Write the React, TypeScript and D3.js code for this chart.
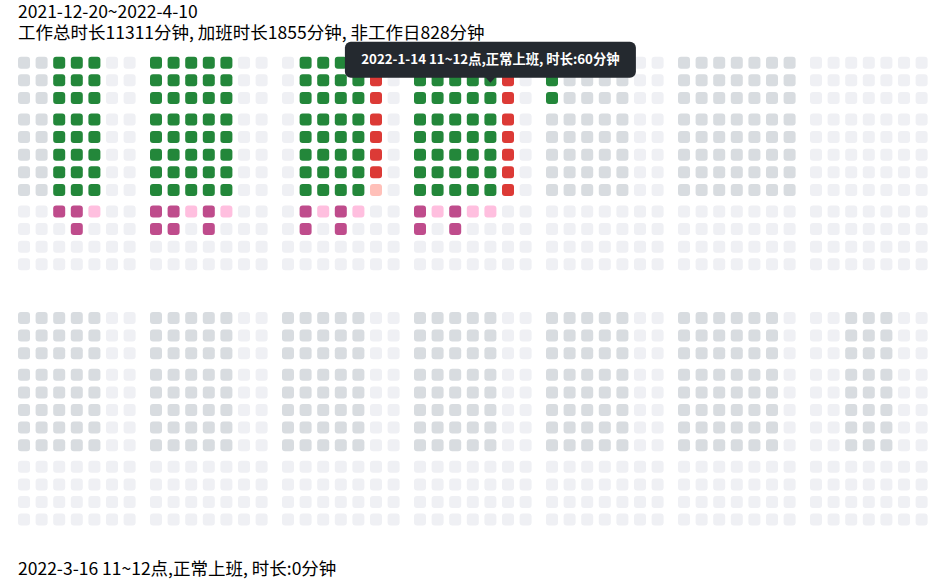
import React, { useState } from "react";
import * as d3 from "d3";

// weeks shown, Monday of each week
const weekStarts = [
  "2021-12-20", "2021-12-27", "2022-1-3", "2022-1-10", "2022-1-17", "2022-1-24",
  "2022-1-31", "2022-2-7", "2022-2-14", "2022-2-21", "2022-2-28", "2022-3-7",
  "2022-3-14", "2022-3-21", "2022-3-28", "2022-4-4",
];

const hourSlots = [
  "10~11", "11~12", "12~13",
  "14~15", "15~16", "16~17", "17~18", "18~19",
  "19~20", "20~21", "21~22", "22~23",
];

// public holidays that fall on weekdays, and weekend make-up workdays
const holidays = [
  "2022-1-3", "2022-1-31", "2022-2-1", "2022-2-2", "2022-2-3", "2022-2-4",
  "2022-4-4", "2022-4-5",
];
const makeupDays = ["2022-1-29", "2022-1-30", "2022-4-2"];

// minutes worked per hour slot
const recordDates = [
  "2021-12-22", "2021-12-23", "2021-12-24",
  "2021-12-27", "2021-12-28", "2021-12-29", "2021-12-30", "2021-12-31",
  "2022-1-4", "2022-1-5", "2022-1-6", "2022-1-7", "2022-1-8",
  "2022-1-10", "2022-1-11", "2022-1-12", "2022-1-13", "2022-1-14", "2022-1-15",
  "2022-1-17",
];
const recordMinutes = [
  [60, 60, 60, 60, 60, 60, 60, 60, 60, 0, 0, 0],
  [60, 60, 60, 60, 60, 60, 60, 60, 60, 60, 0, 0],
  [60, 60, 60, 60, 60, 60, 60, 60, 25, 0, 0, 0],
  [60, 60, 60, 60, 60, 60, 60, 60, 60, 60, 0, 0],
  [60, 60, 60, 60, 60, 60, 60, 60, 60, 60, 0, 0],
  [60, 60, 60, 60, 60, 60, 60, 60, 30, 0, 0, 0],
  [60, 60, 60, 60, 60, 60, 60, 60, 60, 60, 0, 0],
  [60, 60, 60, 60, 60, 60, 60, 60, 20, 0, 0, 0],
  [60, 60, 60, 60, 60, 60, 60, 60, 60, 60, 0, 0],
  [60, 60, 60, 60, 60, 60, 60, 60, 35, 0, 0, 0],
  [60, 60, 60, 60, 60, 60, 60, 60, 60, 60, 0, 0],
  [60, 60, 60, 60, 60, 60, 60, 60, 15, 0, 0, 0],
  [60, 60, 60, 60, 60, 60, 60, 40, 0, 0, 0, 0],
  [60, 60, 60, 60, 60, 60, 60, 60, 60, 60, 0, 0],
  [60, 60, 60, 60, 60, 60, 60, 60, 30, 0, 0, 0],
  [60, 60, 60, 60, 60, 60, 60, 60, 60, 60, 0, 0],
  [60, 60, 60, 60, 60, 60, 60, 60, 20, 0, 0, 0],
  [60, 60, 60, 60, 60, 60, 60, 60, 40, 0, 0, 0],
  [60, 60, 60, 60, 60, 60, 60, 60, 0, 0, 0, 0],
  [60, 60, 60, 0, 0, 0, 0, 0, 0, 0, 0, 0],
];

const rangeLabel = "2021-12-20~2022-4-10";
const summaryLabel = "工作总时长11311分钟, 加班时长1855分钟, 非工作日828分钟";

const fmt = d3.timeFormat("%Y-%-m-%-d");
const parse = d3.timeParse("%Y-%m-%d");

const colors = {
  work: "#23873a",
  workLight: "#9be0a8",
  off: "#dc3a36",
  offLight: "#ffc0b9",
  over: "#bf4c8c",
  overLight: "#ffbfdf",
  empty: "#d8dce0",
  blank: "#eff0f4",
};

const CELL = 12;
const PITCH = 17.6;
const WEEK_PITCH = 132;
const ROW_PITCH = 255.3;
const X0 = 18;
const Y0 = 56.7;
const PER_ROW = 9;

const slotGroup = (s: number) => (s < 3 ? 0 : s < 8 ? 1 : 2);

const App: React.FC = () => {
  const [hoverText, setHoverText] = useState("2022-3-16 11~12点,正常上班, 时长:0分钟");

  const days: any[] = [];
  weekStarts.forEach((ws, w) => {
    const start = parse(ws.replace(/-(\d)(?=-|$)/g, "-0$1")) as Date;
    for (let d = 0; d < 7; d++) {
      const date = d3.timeDay.offset(start, d);
      const key = fmt(date);
      const workday = (d < 5 && !holidays.includes(key)) || makeupDays.includes(key);
      const ri = recordDates.indexOf(key);
      const mins = ri >= 0 ? recordMinutes[ri] : null;
      days.push({ w, d, key, workday, mins });
    }
  });

  const cellX = (w: number, d: number) => X0 + (w % PER_ROW) * WEEK_PITCH + d * PITCH;
  const cellY = (w: number, s: number) =>
    Y0 + Math.floor(w / PER_ROW) * ROW_PITCH + s * PITCH + slotGroup(s) * 4;

  const cellColor = (day: any, s: number) => {
    const m = day.mins ? day.mins[s] : 0;
    if (s >= 8) return m >= 60 ? colors.over : m > 0 ? colors.overLight : colors.blank;
    if (day.workday) return m >= 60 ? colors.work : m > 0 ? colors.workLight : colors.empty;
    return m >= 60 ? colors.off : m > 0 ? colors.offLight : colors.blank;
  };

  const label = (day: any, s: number) => {
    const m = day.mins ? day.mins[s] : 0;
    const type = s >= 8 ? "加班" : day.workday ? "正常上班" : "非工作日";
    return `${day.key} ${hourSlots[s]}点,${type}, 时长:${m}分钟`;
  };

  // tooltip on 2022-1-14, 11~12
  const tipDay = days.find((x) => x.key === "2022-1-14");
  const tipSlot = 1;
  const tipText = label(tipDay, tipSlot);
  const tipCx = cellX(tipDay.w, tipDay.d) + CELL / 2;
  const tipBottom = cellY(tipDay.w, tipSlot) + 3.5;
  const tipW = 291;
  const tipH = 36;

  return (
    <svg
      width={938}
      height={581}
      style={{ position: "absolute", left: 0, top: 0 }}
      fontFamily="'Noto Sans CJK SC', 'Noto Sans', sans-serif"
    >
      <text x={18} y={17.5} fontSize={17.5} fill="#000">{rangeLabel}</text>
      <text x={18} y={38.5} fontSize={17.5} fill="#000">{summaryLabel}</text>

      {days.map((day) =>
        hourSlots.map((_, s) => (
          <rect
            key={day.key + "-" + s}
            x={cellX(day.w, day.d)}
            y={cellY(day.w, s)}
            width={CELL}
            height={CELL}
            rx={3}
            fill={cellColor(day, s)}
            onMouseEnter={() => setHoverText(label(day, s))}
          />
        ))
      )}

      <g>
        <rect
          x={tipCx - tipW / 2}
          y={tipBottom - tipH}
          width={tipW}
          height={tipH}
          rx={6}
          fill="#24292f"
        />
        <path
          d={`M${tipCx - 5},${tipBottom - 0.5}L${tipCx},${tipBottom + 5}L${tipCx + 5},${tipBottom - 0.5}Z`}
          fill="#24292f"
        />
        <text
          x={tipCx}
          y={tipBottom - tipH / 2 + 4.5}
          textAnchor="middle"
          fontSize={13.3}
          fontWeight="bold"
          fill="#fff"
        >
          {tipText}
        </text>
      </g>

      <text x={18} y={575} fontSize={17.5} fill="#000">{hoverText}</text>
    </svg>
  );
};

export default App;
